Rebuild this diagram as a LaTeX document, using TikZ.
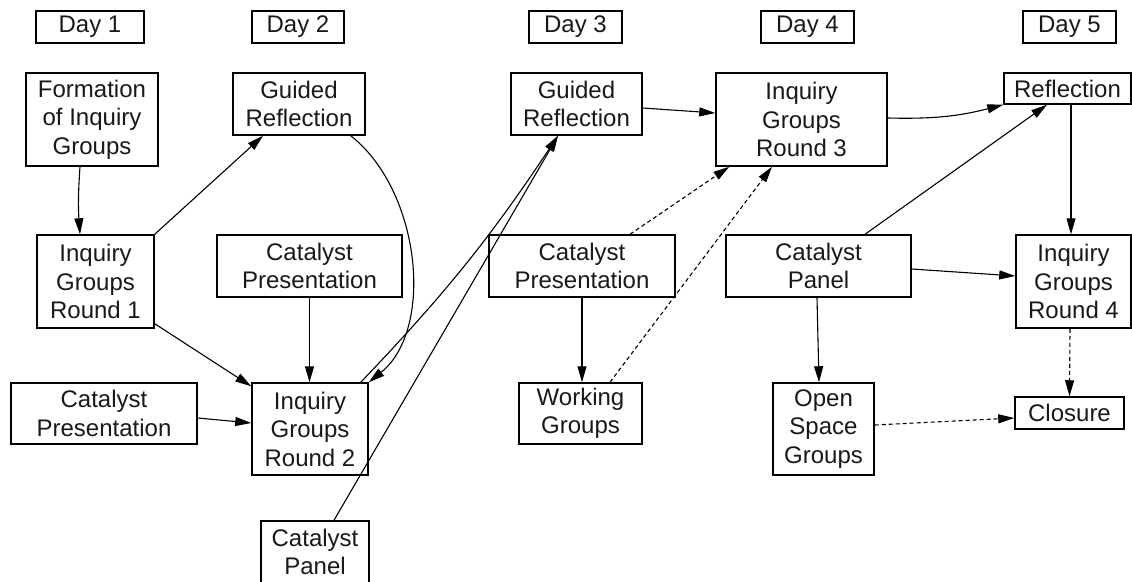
\documentclass[tikz,border=0pt]{standalone}
\usepackage{fontspec}
\setmainfont{Liberation Sans}
\usetikzlibrary{arrows.meta}
\begin{document}
\begin{tikzpicture}[x=1pt,y=-1pt,
  box/.style={draw, line width=1.5pt, inner sep=0pt, align=center,
    font=\fontsize{24}{28.5}\selectfont, text=black!90},
  sz/.style 2 args={minimum width=#1pt, minimum height=#2pt},
  conn/.style={line width=1.1pt, -{Triangle[length=16pt,width=9pt]}},
  dsh/.style={conn, dash pattern=on 4pt off 3pt}]
\useasboundingbox[fill=white] (0,0) rectangle (1132,581);
% day headers
\node[box,sz={108}{32}] (d1) at (90,27) {Day 1};
\node[box,sz={92}{32}] (d2) at (298,27) {Day 2};
\node[box,sz={93}{32}] (d3) at (575.5,27) {Day 3};
\node[box,sz={93}{32}] (d4) at (807.5,27) {Day 4};
\node[box,sz={93}{32}] (d5) at (1069.5,27) {Day 5};
% activities
\node[box,sz={132}{93}] (form) at (92,119.5) {Formation\\of Inquiry\\Groups};
\node[box,sz={132}{62}] (gr2) at (299,104) {Guided\\Reflection};
\node[box,sz={131}{62}] (gr3) at (576.5,104) {Guided\\Reflection};
\node[box,sz={171}{93}] (igr3) at (801.5,119.5) {Inquiry\\Groups\\Round 3};
\node[box,sz={127}{31}] (refl) at (1067.5,88.5) {Reflection};
\node[box,sz={117}{93}] (igr1) at (95.5,281.5) {Inquiry\\Groups\\Round 1};
\node[box,sz={185}{62}] (cp2) at (309.5,266) {Catalyst\\Presentation};
\node[box,sz={186}{62}] (cp3) at (582,266) {Catalyst\\Presentation};
\node[box,sz={185}{62}] (cp4) at (818.5,266) {Catalyst\\Panel};
\node[box,sz={115}{93}] (igr4) at (1073.5,281.5) {Inquiry\\Groups\\Round 4};
\node[box,sz={186}{61}] (cp1) at (104,413.5) {Catalyst\\Presentation};
\node[box,sz={116}{92}] (igr2) at (310,429) {Inquiry\\Groups\\Round 2};
\node[box,sz={123}{61}] (wg) at (580.5,413.5) {Working\\Groups};
\node[box,sz={101}{92}] (osg) at (823.5,429) {Open\\Space\\Groups};
\node[box,sz={109}{32}] (clos) at (1069.5,413) {Closure};
\node[box,sz={108}{62}] (cpan) at (315,552) {Catalyst\\Panel};
% connectors
\draw[conn] ([xshift=-12pt]form.south) to[bend right=4] ([xshift=-15.5pt]igr1.north);
\draw[conn] (igr1.north east) -- ([xshift=-36pt]gr2.south);
\draw[conn] ([yshift=5pt]igr1.south east) -- ([yshift=-4pt]igr2.north west);
\draw[conn] ([xshift=-15pt]gr2.south east) .. controls +(70,55) and +(66,-53) .. (igr2.north east);
\draw[conn] (cp2.south) -- (cp2.south |- igr2.north);
\draw[conn] ([yshift=-4.5pt]cp1.east) -- ([yshift=6pt]igr2.west);
\draw[conn] ([xshift=-8pt]igr2.north east) to[bend right=5] ([xshift=-18.5pt]gr3.south);
\draw[conn] ([xshift=19pt]cpan.north) -- ([xshift=-18.5pt]gr3.south);
\draw[conn] ([yshift=-4pt]gr3.east) -- ([yshift=6.5pt]igr3.west);
\draw[dsh] ([xshift=48pt]cp3.north) -- ([xshift=14pt]igr3.south west);
\draw[dsh] ([xshift=29.5pt]wg.north) -- ([xshift=-29.5pt]igr3.south);
\draw[conn] (cp3.south) -- (cp3.south |- wg.north);
\draw[conn] ([yshift=1.5pt]igr3.east) to[bend right=8] (refl.south west);
\draw[conn] ([xshift=46.5pt]cp4.north) -- ([xshift=-20.5pt]refl.south);
\draw[conn] ([xshift=3.5pt]refl.south) -- ([xshift=-2.5pt]igr4.north);
\draw[conn] ([yshift=-3pt]cp4.east) -- ([yshift=5.5pt]igr4.west);
\draw[conn] ([xshift=-1.5pt]cp4.south) -- ([xshift=-4.5pt]osg.north);
\draw[dsh] ([xshift=-3.5pt]igr4.south) -- (clos.north);
\draw[dsh] ([yshift=4pt]osg.east) -- ([yshift=-5pt]clos.west);
\end{tikzpicture}
\end{document}
